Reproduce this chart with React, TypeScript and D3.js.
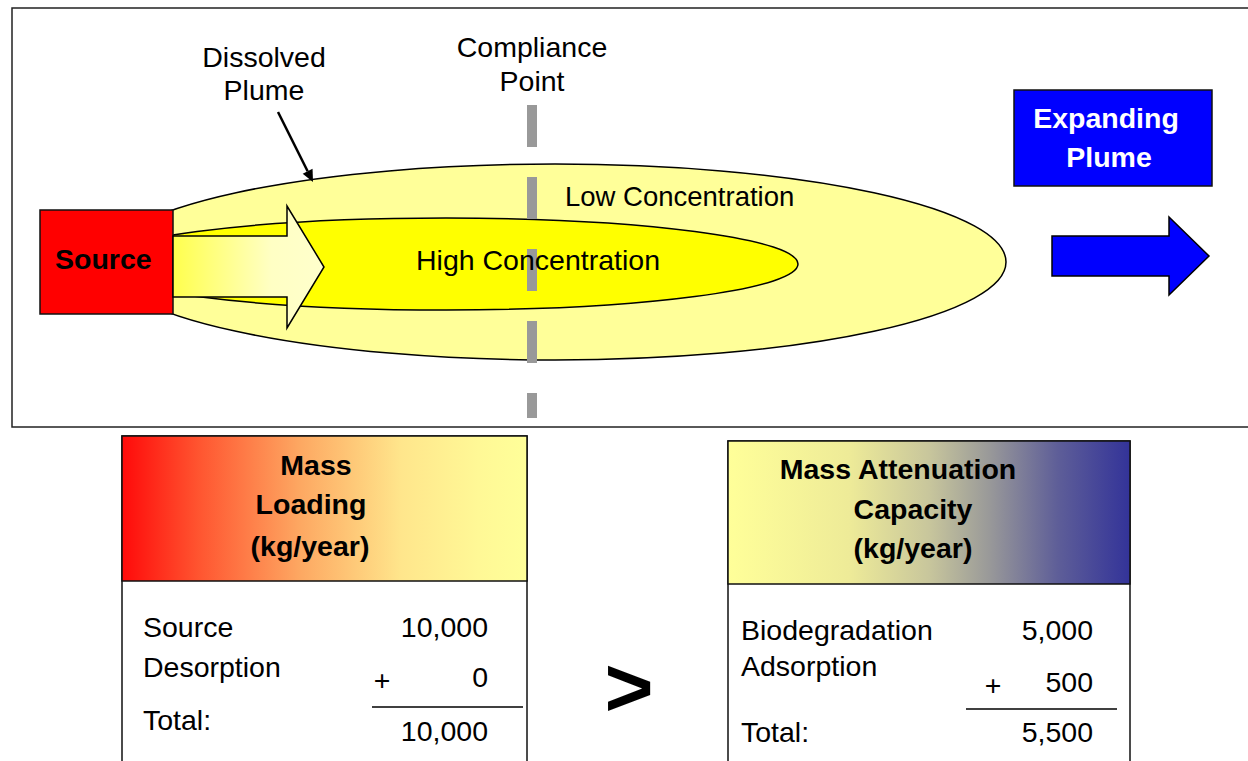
import React from "react";
import * as d3 from "d3";

// ---- data ----
const loadingTitle = ["Mass", "Loading", "(kg/year)"];
const loadingLabels = ["Source", "Desorption"];
const loadingValues = [10000, 0];
const attenuationTitle = ["Mass Attenuation", "Capacity", "(kg/year)"];
const attenuationLabels = ["Biodegradation", "Adsorption"];
const attenuationValues = [5000, 500];
const dissolvedLabel = ["Dissolved", "Plume"];
const complianceLabel = ["Compliance", "Point"];
const expandingLabel = ["Expanding", "Plume"];
const zoneLabels = ["Low Concentration", "High Concentration"];
const sourceLabel = "Source";
const totalLabel = "Total:";

const FONT = "'Liberation Sans', Arial, Helvetica, sans-serif";
const FS = 28.5;
const fmt = d3.format(",");
const line = d3.line();

function Arrowline({ x1, y1, x2, y2 }: { x1: number; y1: number; x2: number; y2: number }) {
  const dx = x2 - x1, dy = y2 - y1;
  const len = Math.hypot(dx, dy);
  const ux = dx / len, uy = dy / len;
  const hl = 12, hw = 5.5;
  const bx = x2 - ux * hl, by = y2 - uy * hl;
  const head = line([
    [x2, y2],
    [bx - uy * hw, by + ux * hw],
    [bx + uy * hw, by - ux * hw],
  ]) + "Z";
  return (
    <g>
      <line x1={x1} y1={y1} x2={bx} y2={by} stroke="#000" strokeWidth={2.5} />
      <path d={head} fill="#000" />
    </g>
  );
}

function Table({
  x, w, headH, title, titleX, titleY, grad, labels, values, labelX, labelYs, valueYs, plusX, valueRight, ruleX1, ruleX2, ruleY, totalLabelY, totalValueY,
}: any) {
  const total = d3.sum(values as number[]);
  return (
    <g fontFamily={FONT}>
      <rect x={x} y={headH[0]} width={w} height={900} fill="#fff" stroke="#111" strokeWidth={1.5} />
      <rect x={x} y={headH[0]} width={w} height={headH[1] - headH[0]} fill={`url(#${grad})`} stroke="#111" strokeWidth={1.5} />
      {title.map((t: string, i: number) => (
        <text key={t} x={titleX[i]} y={titleY[i]} textAnchor="middle" fontSize={FS} fontWeight="bold" fill="#000">{t}</text>
      ))}
      {labels.map((t: string, i: number) => (
        <text key={t} x={labelX} y={labelYs[i]} fontSize={FS} fill="#000">{t}</text>
      ))}
      {values.map((v: number, i: number) => (
        <text key={i} x={valueRight} y={valueYs[i]} textAnchor="end" fontSize={FS} fill="#000">{fmt(v)}</text>
      ))}
      <text x={plusX} y={valueYs[1] + 3} textAnchor="middle" fontSize={FS} fill="#000">+</text>
      <line x1={ruleX1} x2={ruleX2} y1={ruleY} y2={ruleY} stroke="#000" strokeWidth={1.5} />
      <text x={labelX} y={totalLabelY} fontSize={FS} fill="#000">{totalLabel}</text>
      <text x={valueRight} y={totalValueY} textAnchor="end" fontSize={FS} fill="#000">{fmt(total)}</text>
    </g>
  );
}

export default function App() {
  const yellowArrow = line([
    [173, 236], [287, 236], [287, 206], [324, 267], [287, 328], [287, 297], [173, 297],
  ]) + "Z";
  const blueArrow = line([
    [1052, 236], [1169, 236], [1169, 217], [1209, 256], [1169, 295], [1169, 276], [1052, 276],
  ]) + "Z";

  return (
    <svg
      width={1248}
      height={761}
      style={{ position: "absolute", left: 0, top: 0, background: "#fff" }}
      fontFamily={FONT}
    >
      <defs>
        <linearGradient id="arrowGrad" gradientUnits="userSpaceOnUse" x1={173} x2={324} y1={0} y2={0}>
          <stop offset="0" stopColor="#FFFF4D" />
          <stop offset="0.65" stopColor="#FFFFC4" />
          <stop offset="1" stopColor="#FFFFCC" />
        </linearGradient>
        <linearGradient id="loadGrad" x1="0" x2="1" y1="0" y2="0">
          <stop offset="0" stopColor="#FF0A0A" />
          <stop offset="0.19" stopColor="#FF5530" />
          <stop offset="0.44" stopColor="#FDA862" />
          <stop offset="0.69" stopColor="#FFE68C" />
          <stop offset="0.88" stopColor="#FFF896" />
          <stop offset="1" stopColor="#FFFF99" />
        </linearGradient>
        <linearGradient id="attGrad" x1="0" x2="1" y1="0" y2="0">
          <stop offset="0" stopColor="#FFFF99" />
          <stop offset="0.3" stopColor="#EEEB98" />
          <stop offset="0.5" stopColor="#C8C69C" />
          <stop offset="0.65" stopColor="#999999" />
          <stop offset="0.82" stopColor="#5E5E98" />
          <stop offset="1" stopColor="#333399" />
        </linearGradient>
      </defs>

      {/* top frame */}
      <rect x={12} y={8} width={1260} height={419} fill="#fff" stroke="#222" strokeWidth={1.5} />

      {/* plume */}
      <ellipse cx={555} cy={262} rx={451} ry={98} fill="#FFFF99" stroke="#000" strokeWidth={1.5} />
      <ellipse cx={446} cy={264} rx={352} ry={46} fill="#FFFF00" stroke="#000" strokeWidth={1.5} />

      {/* source */}
      <rect x={40} y={210} width={133} height={104} fill="#FF0000" stroke="#111" strokeWidth={1.5} />
      <path d={yellowArrow} fill="url(#arrowGrad)" stroke="#000" strokeWidth={1.5} />

      {/* compliance line */}
      <line x1={532} x2={532} y1={105} y2={418} stroke="#999999" strokeWidth={10} strokeDasharray="42 30" />

      {/* labels */}
      <text x={55} y={269} fontSize={FS} fontWeight="bold" fill="#000">{sourceLabel}</text>
      <text x={565} y={206} fontSize={FS - 1} fill="#000">{zoneLabels[0]}</text>
      <text x={416} y={270} fontSize={FS} fill="#000">{zoneLabels[1]}</text>
      {dissolvedLabel.map((t, i) => (
        <text key={t} x={264} y={67 + i * 33} textAnchor="middle" fontSize={FS} fill="#000">{t}</text>
      ))}
      {complianceLabel.map((t, i) => (
        <text key={t} x={532} y={57 + i * 34} textAnchor="middle" fontSize={FS} fill="#000">{t}</text>
      ))}
      <Arrowline x1={278} y1={112} x2={313} y2={182} />

      {/* expanding plume */}
      <rect x={1014} y={90} width={198} height={96} fill="#0000FF" stroke="#111" strokeWidth={1.5} />
      {expandingLabel.map((t, i) => (
        <text key={t} x={i === 0 ? 1106 : 1109} y={128 + i * 39} textAnchor="middle" fontSize={FS} fontWeight="bold" fill="#fff">{t}</text>
      ))}
      <path d={blueArrow} fill="#0000FF" stroke="#000" strokeWidth={1.5} />

      {/* tables */}
      <Table
        x={122} w={405} headH={[436, 581]} title={loadingTitle}
        titleX={[316, 311, 310]} titleY={[475, 514, 556]} grad="loadGrad"
        labels={loadingLabels} values={loadingValues} labelX={143}
        labelYs={[637, 677]} valueYs={[637, 687]} plusX={382} valueRight={488}
        ruleX1={372} ruleX2={523} ruleY={707} totalLabelY={730} totalValueY={741}
      />
      <text x={629} y={716} textAnchor="middle" fontSize={84} fontWeight="bold" fill="#000">&gt;</text>
      <Table
        x={728} w={402} headH={[441, 584]} title={attenuationTitle}
        titleX={[898, 913, 913]} titleY={[479, 519, 558]} grad="attGrad"
        labels={attenuationLabels} values={attenuationValues} labelX={741}
        labelYs={[640, 676]} valueYs={[640, 692]} plusX={993} valueRight={1093}
        ruleX1={966} ruleX2={1117} ruleY={709} totalLabelY={742} totalValueY={742}
      />
    </svg>
  );
}
